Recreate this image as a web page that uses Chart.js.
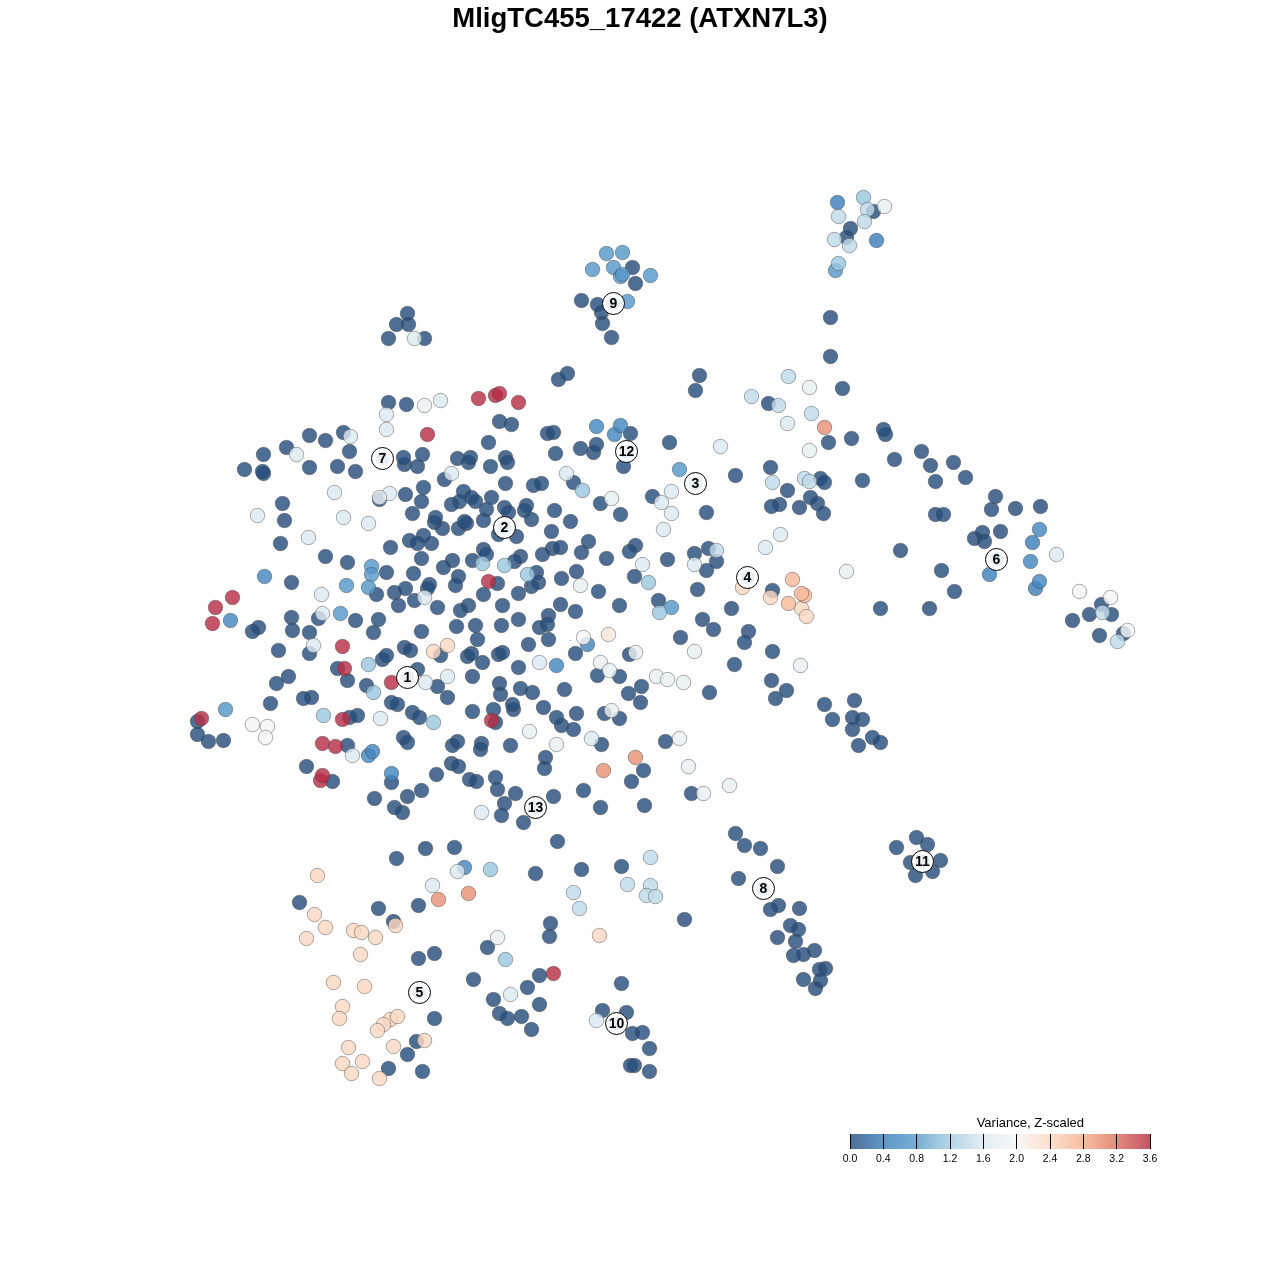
<!DOCTYPE html>
<html>
<head>
<meta charset="utf-8">
<script src="https://cdn.jsdelivr.net/npm/chart.js@4"></script>
<style>
html,body{margin:0;padding:0;background:#fff}
#main{position:absolute;left:0;top:0}
#bar{position:absolute;left:820px;top:1105px}
</style>
</head>
<body>
<canvas id="main" width="1280" height="1280"></canvas>
<canvas id="bar" width="360" height="70"></canvas>
<script>
const chartTitle = "MligTC455_17422 (ATXN7L3)";
const legendTitle = "Variance, Z-scaled";

const dark = [[388,402],[406,404],[309,435],[325,440],[343,432],[349,451],[286,447],[263,454],[244,469],[263,473],[262,471],[309,467],[337,466],[355,471],
[404,464],[403,457],[422,454],[417,466],[457,458],[468,462],[470,457],[488,442],[490,466],[444,479],[379,499],[423,487],[405,494],[421,501],[463,491],[471,497],[459,501],[451,504],[475,501],[491,497],[486,509],[412,513],[434,522],[435,517],[442,528],[458,528],[466,523],[464,521],[483,520],
[282,503],[284,520],[280,543],[325,556],[347,562],[390,547],[409,540],[423,535],[417,543],[431,543],[421,558],[452,560],[443,567],[483,549],[486,554],[472,560],[413,573],[386,572],[458,576],[455,585],[483,594],[376,594],[394,592],[405,588],[429,584],[427,588],[414,600],[398,605],[437,607],[291,582],[460,610],[468,605],
[291,617],[292,630],[318,618],[258,627],[252,631],[309,632],[355,620],[378,619],[373,632],[421,631],[456,626],[475,625],[278,650],[309,653],[382,659],[386,655],[404,647],[410,650],[440,655],[477,639],[467,656],[471,653],[482,662],[498,654],[502,652],[337,668],[347,680],[366,685],[417,669],[437,686],[447,697],[472,676],[499,683],[500,694],[288,676],[276,683],[270,703],[311,697],[303,698],[391,702],[397,704],[412,712],[419,717],[472,711],[493,709],[495,722],[349,717],[357,715],[197,721],[197,734],[208,741],[223,740],[403,737],[407,742],[347,745],[452,745],[457,741],[480,749],[481,743],[306,766],[332,781],[391,782],[436,774],[451,763],[458,766],[469,779],[476,781],[495,777],[497,789],[421,790],[407,796],[374,798],[394,807],[402,812],[425,848],[454,847],
[558,379],[567,373],[499,421],[511,424],[547,433],[553,432],[505,457],[507,462],[555,453],[580,448],[593,452],[596,444],[630,433],[623,466],[669,442],[505,483],[533,485],[541,483],[573,482],[504,507],[508,512],[526,505],[524,510],[531,519],[554,510],[570,521],[600,503],[620,514],[652,496],[706,512],[735,475],[770,467],[787,490],[699,375],[695,390],[768,403],[779,504],[771,506],[799,507],
[498,534],[516,536],[551,531],[588,541],[552,548],[560,547],[542,554],[581,552],[606,558],[635,545],[629,551],[667,559],[694,553],[708,548],[716,561],[706,570],[634,576],[697,589],[520,556],[514,561],[536,572],[538,582],[531,586],[518,593],[561,578],[576,571],[497,583],[502,605],[560,604],[575,611],[598,591],[619,605],[658,600],[548,615],[518,619],[702,619],[731,608],[772,590],[501,625],
[539,627],[547,624],[548,639],[528,644],[575,653],[518,667],[680,637],[713,629],[748,631],[744,642],[772,651],[734,664],[629,654],[597,675],[619,676],[641,686],[628,693],[640,702],[709,692],[771,680],[786,690],[775,698],[520,688],[532,692],[564,689],[543,707],[561,725],[556,717],[576,713],[573,729],[604,713],[619,718],[513,709],[512,704],[510,745],[601,744],[545,757],[544,768],[665,741],[643,770],[631,781],[515,793],[504,803],[501,815],[523,822],[553,796],[583,790],[600,807],[644,805],[691,793],[557,841],
[396,858],[535,873],[581,869],[621,866],[299,902],[378,908],[418,905],[393,921],[550,923],[549,936],[684,919],[487,947],[434,953],[418,958],[473,979],[539,975],[527,987],[493,999],[539,1004],[499,1013],[507,1018],[521,1016],[531,1029],[434,1018],[621,983],[602,1010],[626,1012],[632,1033],[642,1032],[649,1048],[634,1065],[630,1065],[649,1071],[416,1041],[407,1054],[388,1068],[422,1071],
[873,211],[846,237],[850,228],[830,317],[830,356],[842,388],[828,442],[851,438],[885,434],[883,429],[921,451],[894,459],[930,465],[953,462],[965,477],[935,481],[862,480],[820,478],[824,482],[810,497],[817,503],[823,513],[995,496],[991,509],[1015,508],[1040,506],[935,514],[943,514],
[900,550],[974,538],[982,532],[984,541],[1000,531],[941,570],[954,591],[880,608],[929,608],[824,704],[854,700],[832,719],[852,717],[862,719],[852,729],[872,737],[880,742],[858,745],[1101,604],[1089,614],[1111,614],[1072,620],[1099,635],[1123,633],
[632,267],[635,283],[581,300],[597,304],[601,312],[602,323],[611,337],[407,313],[396,324],[408,324],[388,338],[424,338],
[735,833],[744,845],[760,848],[777,866],[738,878],[778,905],[770,909],[799,908],[798,929],[790,925],[777,937],[795,941],[803,954],[793,955],[814,950],[825,968],[819,969],[803,979],[815,988],[820,980],
[896,847],[916,837],[927,844],[940,860],[910,862],[932,871],[915,875]];
const blue04 = [[837,202],[876,240],[989,574],[1032,542],[1035,588]];
const blue05 = [[230,620],[368,755],[372,751],[391,773],[264,576],[614,434],[596,426],[620,425],[587,644],[556,665],[464,867],[1039,529],[1030,561],[1039,581]];
const blue07 = [[371,566],[371,574],[368,587],[346,585],[340,613],[225,709],[679,469],[671,607],[606,253],[622,252],[592,269],[613,267],[650,275],[620,276],[622,274],[627,301],[835,270]];
const light12 = [[482,563],[504,565],[527,574],[368,664],[373,692],[323,715],[433,722],[582,490],[648,582],[659,612],[490,869],[505,959],[838,263],[863,197]];
const light14 = [[751,396],[788,376],[778,405],[772,482],[804,478],[809,481],[716,550],[849,245],[867,209],[864,221],[834,239],[838,216],[811,413],[1102,612],[1117,641],[650,857],[627,884],[650,885],[646,895],[655,896],[573,892],[579,908]];
const light16 = [[313,645],[447,676],[380,718],[352,755],[425,682],[481,812],[440,400],[386,414],[386,429],[350,436],[296,454],[451,473],[334,492],[389,493],[257,515],[343,517],[368,523],[308,537],[321,594],[322,613],[424,597],[566,473],[671,491],[661,502],[671,513],[663,529],[720,446],[780,534],[765,547],[642,564],[694,564],[787,423],[414,338],[539,662],[591,738],[432,885],[457,871],[510,994],[596,1020],[1056,554]];
const light18 = [[424,405],[379,497],[611,498],[580,585],[846,571],[800,665],[809,387],[809,450],[884,206],[694,651],[600,662],[609,670],[656,676],[667,679],[683,682],[611,710],[529,731],[556,744],[679,738],[688,766],[729,785],[703,793],[635,652],[497,937]];
const white20 = [[252,724],[267,726],[265,737],[583,637],[1079,591],[1110,597],[1127,630]];
const peach22 = [[608,634]];
const peach24 = [[433,651],[447,645],[742,587],[770,597],[801,608],[806,616],[317,875],[314,914],[325,927],[306,938],[353,930],[361,932],[375,937],[395,925],[360,954],[599,935],[333,982],[364,986],[342,1006],[339,1018],[390,1019],[397,1016],[383,1024],[377,1030],[393,1046],[424,1040],[348,1047],[342,1063],[362,1061],[351,1073],[379,1078]];
const peach27 = [[804,595],[801,593],[792,579],[788,603]];
const salmon30 = [[438,899],[468,893],[824,427],[635,757],[603,770]];
const red36 = [[478,398],[495,395],[499,393],[518,402],[427,434],[232,597],[215,607],[212,623],[488,581],[342,646],[344,668],[391,682],[201,718],[342,719],[491,720],[322,743],[335,746],[320,780],[322,775],[553,973]];
const speck = [[570,640]];

const seriesList = [dark,blue04,blue05,blue07,light12,light14,light16,light18,white20,peach22,peach24,peach27,salmon30,red36];
const seriesValues = [0,0.4,0.5,0.75,1.15,1.4,1.6,1.8,2.0,2.2,2.4,2.7,3.0,3.6];

const clusterIds = ["1","2","3","4","5","6","7","8","9","10","11","12","13"];
const clusterX = [407,504,695,747,419,996,382,763,613,616,922,626,535];
const clusterY = [677,527,483,577,992,559,458,888,303,1023,861,451,807];

const legendTicks = [0,0.4,0.8,1.2,1.6,2.0,2.4,2.8,3.2,3.6];
const legendColors = ["#4e6e94","#6097c7","#78aed4","#b5d6e7","#e3edf4","#f7f7f7","#fddfce","#f6bea1","#e38c7c","#c45467"];

function hexRgb(h){return [1,3,5].map(i=>parseInt(h.substr(i,2),16));}
function colorAt(v){
  const t=Math.max(0,Math.min(legendTicks.length-1.0001,v/0.4));
  const i=Math.floor(t),f=t-i,a=hexRgb(legendColors[i]),b=hexRgb(legendColors[i+1]);
  return a.map((c,k)=>c+(b[k]-c)*f);
}
function pointFill(v){
  const A=0.82,c=colorAt(v).map(x=>Math.max(0,(x-(1-A)*255)/A));
  return `rgba(${c[0].toFixed(0)},${c[1].toFixed(0)},${c[2].toFixed(0)},${A})`;
}

const datasets = seriesList.map((s,i)=>({
  data:s.map(p=>({x:p[0],y:p[1]})),
  pointRadius:7.25,
  pointBackgroundColor:pointFill(seriesValues[i]),
  pointBorderColor:"rgba(70,70,70,0.45)",
  pointBorderWidth:1,
  showLine:false
}));
datasets.push({data:speck.map(p=>({x:p[0],y:p[1]})),pointRadius:0.5,pointBackgroundColor:"#4e6e94",pointBorderWidth:0,showLine:false});
const clusterPts = clusterX.map((x,i)=>({x,y:clusterY[i]}));
datasets.push({data:clusterPts,pointRadius:11,pointBackgroundColor:"#ffffff",pointBorderColor:"#000000",pointBorderWidth:1,showLine:false});
datasets.push({data:clusterPts,pointRadius:7,pointBackgroundColor:"#e8f0f6",pointBorderWidth:0,showLine:false});
// Chart.js paints the highest "order" first, so later datasets sit on top.
datasets.forEach((d,i)=>{d.order=datasets.length-i;});

const clusterText = {
  id:"clusterText",
  afterDatasetsDraw(c){
    const g=c.ctx;g.save();
    g.font='bold 14px "Liberation Sans"';g.fillStyle="#000";g.textAlign="center";g.textBaseline="middle";
    clusterIds.forEach((t,i)=>g.fillText(t,c.scales.x.getPixelForValue(clusterX[i]),c.scales.y.getPixelForValue(clusterY[i])+0.5));
    g.restore();
  }
};
new Chart(document.getElementById("main"),{
  type:"scatter",
  data:{datasets},
  plugins:[clusterText],
  options:{
    responsive:false,animation:false,
    layout:{padding:0,autoPadding:false},
    events:[],
    plugins:{
      legend:{display:false},tooltip:{enabled:false},
      title:{display:true,text:chartTitle,color:"#000",padding:{top:3,bottom:1},
        font:{family:'"Liberation Sans"',size:27.5,weight:"bold",lineHeight:32/27.5}}
    },
    scales:{
      x:{type:"linear",min:-0.5,max:1279.5,display:false},
      y:{type:"linear",min:35.5,max:1279.5,reverse:true,display:false}
    }
  }
});

const legendTitlePlugin = {
  id:"legendTitlePlugin",
  afterDraw(c){
    const g=c.ctx;g.save();
    g.font='13px "Liberation Sans"';g.fillStyle="#000";g.textAlign="left";g.textBaseline="middle";
    g.fillText(legendTitle,c.scales.x.getPixelForValue(1.52),c.chartArea.top-11);
    g.restore();
  }
};
new Chart(document.getElementById("bar"),{
  type:"bar",
  data:{labels:[""],datasets:[{
    data:[[0,3.6]],barPercentage:1,categoryPercentage:1,borderWidth:0,
    backgroundColor(ctx){
      const a=ctx.chart.chartArea; if(!a) return legendColors[0];
      const g=ctx.chart.ctx.createLinearGradient(a.left,0,a.right,0);
      legendColors.forEach((c,i)=>g.addColorStop(i/(legendColors.length-1),c));
      return g;
    }
  }]},
  plugins:[legendTitlePlugin],
  options:{
    indexAxis:"y",responsive:false,animation:false,events:[],
    layout:{padding:{left:30,right:30,top:29,bottom:0},autoPadding:false},
    plugins:{legend:{display:false},tooltip:{enabled:false},title:{display:false}},
    scales:{
      y:{type:"category",display:false},
      x:{type:"linear",min:0,max:3.6,position:"bottom",
        afterFit(s){s.height=26;},
        afterBuildTicks(s){s.ticks=legendTicks.map(v=>({value:v}));},
        border:{display:false},
        grid:{color:"#000",lineWidth:1,z:1,drawTicks:false,drawOnChartArea:true},
        ticks:{autoSkip:false,maxRotation:0,padding:4,color:"#000",font:{family:'"Liberation Sans"',size:10.5},
          callback:v=>Number(v).toFixed(1)}
      }
    }
  }
});
</script>
</body>
</html>
